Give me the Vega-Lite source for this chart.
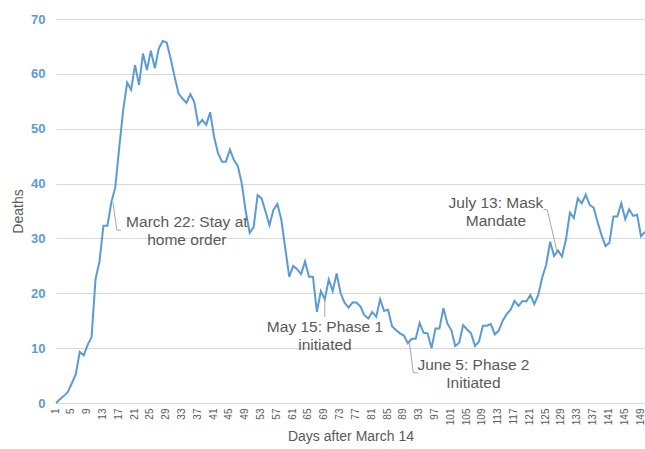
{
  "$schema": "https://vega.github.io/schema/vega-lite/v6.json",
  "width": 589,
  "height": 384,
  "autosize": {"type": "none"},
  "padding": {"left": 56, "top": 19, "right": 0, "bottom": 46},
  "config": {
    "view": {"stroke": null},
    "font": "Liberation Sans",
    "axisX": {
      "labelOverlap": false, "labelAngle": -90, "labelFontSize": 10, "labelColor": "#595959",
      "labelPadding": 5, "labelOffset": -1, "ticks": false, "grid": false, "domainColor": "#d9d9d9", "labelFlush": false,
      "titleFontSize": 14, "titleFontWeight": "normal", "titleColor": "#595959", "titlePadding": 5
    },
    "axisY": {
      "labelFontSize": 13, "labelFontWeight": "bold", "labelColor": "#5b9bd5",
      "labelPadding": 11, "ticks": false, "domain": false, "gridColor": "#d9d9d9",
      "titleFontSize": 14, "titleFontWeight": "normal", "titleColor": "#595959", "titlePadding": 5
    }
  },
  "datasets": {
    "deaths": [
      {"day":1,"deaths":0},{"day":2,"deaths":0.7},{"day":3,"deaths":1.3},{"day":4,"deaths":2.0},{"day":5,"deaths":3.6},
      {"day":6,"deaths":5.2},{"day":7,"deaths":9.3},{"day":8,"deaths":8.7},{"day":9,"deaths":10.6},{"day":10,"deaths":12.0},
      {"day":11,"deaths":22.6},{"day":12,"deaths":25.8},{"day":13,"deaths":32.3},{"day":14,"deaths":32.3},{"day":15,"deaths":36.6},
      {"day":16,"deaths":39.3},{"day":17,"deaths":46.6},{"day":18,"deaths":53.4},{"day":19,"deaths":58.4},{"day":20,"deaths":57.1},
      {"day":21,"deaths":61.6},{"day":22,"deaths":58.0},{"day":23,"deaths":63.7},{"day":24,"deaths":60.7},{"day":25,"deaths":64.2},
      {"day":26,"deaths":61.0},{"day":27,"deaths":64.6},{"day":28,"deaths":66.0},{"day":29,"deaths":65.7},{"day":30,"deaths":62.8},
      {"day":31,"deaths":59.5},{"day":32,"deaths":56.4},{"day":33,"deaths":55.5},{"day":34,"deaths":54.7},{"day":35,"deaths":56.3},
      {"day":36,"deaths":54.8},{"day":37,"deaths":50.7},{"day":38,"deaths":51.6},{"day":39,"deaths":50.7},{"day":40,"deaths":53.0},
      {"day":41,"deaths":48.5},{"day":42,"deaths":45.5},{"day":43,"deaths":44.0},{"day":44,"deaths":44.0},{"day":45,"deaths":46.2},
      {"day":46,"deaths":44.3},{"day":47,"deaths":43.2},{"day":48,"deaths":40.0},{"day":49,"deaths":34.9},{"day":50,"deaths":31.0},
      {"day":51,"deaths":32.1},{"day":52,"deaths":37.9},{"day":53,"deaths":37.3},{"day":54,"deaths":34.9},{"day":55,"deaths":32.4},
      {"day":56,"deaths":35.2},{"day":57,"deaths":36.3},{"day":58,"deaths":33.4},{"day":59,"deaths":28.2},{"day":60,"deaths":23.0},
      {"day":61,"deaths":25.0},{"day":62,"deaths":24.4},{"day":63,"deaths":23.5},{"day":64,"deaths":25.8},{"day":65,"deaths":23.0},
      {"day":66,"deaths":23.0},{"day":67,"deaths":16.6},{"day":68,"deaths":20.4},{"day":69,"deaths":18.9},{"day":70,"deaths":22.5},
      {"day":71,"deaths":20.4},{"day":72,"deaths":23.6},{"day":73,"deaths":20.0},{"day":74,"deaths":18.3},{"day":75,"deaths":17.4},
      {"day":76,"deaths":18.3},{"day":77,"deaths":18.3},{"day":78,"deaths":17.6},{"day":79,"deaths":16.0},{"day":80,"deaths":15.4},
      {"day":81,"deaths":16.6},{"day":82,"deaths":15.7},{"day":83,"deaths":18.9},{"day":84,"deaths":16.8},{"day":85,"deaths":17.0},
      {"day":86,"deaths":14.0},{"day":87,"deaths":13.3},{"day":88,"deaths":12.7},{"day":89,"deaths":12.3},{"day":90,"deaths":10.9},
      {"day":91,"deaths":11.7},{"day":92,"deaths":11.7},{"day":93,"deaths":14.6},{"day":94,"deaths":12.8},{"day":95,"deaths":12.7},
      {"day":96,"deaths":10.0},{"day":97,"deaths":13.6},{"day":98,"deaths":13.6},{"day":99,"deaths":17.3},{"day":100,"deaths":14.5},
      {"day":101,"deaths":13.3},{"day":102,"deaths":10.4},{"day":103,"deaths":11.0},{"day":104,"deaths":14.2},{"day":105,"deaths":13.4},
      {"day":106,"deaths":12.7},{"day":107,"deaths":10.4},{"day":108,"deaths":11.2},{"day":109,"deaths":14.1},{"day":110,"deaths":14.1},
      {"day":111,"deaths":14.4},{"day":112,"deaths":12.5},{"day":113,"deaths":13.2},{"day":114,"deaths":15.0},{"day":115,"deaths":16.2},
      {"day":116,"deaths":17.0},{"day":117,"deaths":18.6},{"day":118,"deaths":17.7},{"day":119,"deaths":18.6},{"day":120,"deaths":18.5},
      {"day":121,"deaths":19.7},{"day":122,"deaths":18.0},{"day":123,"deaths":19.7},{"day":124,"deaths":22.9},{"day":125,"deaths":25.2},
      {"day":126,"deaths":29.4},{"day":127,"deaths":26.8},{"day":128,"deaths":27.8},{"day":129,"deaths":26.7},{"day":130,"deaths":29.8},
      {"day":131,"deaths":34.7},{"day":132,"deaths":33.7},{"day":133,"deaths":37.3},{"day":134,"deaths":36.4},{"day":135,"deaths":38.0},
      {"day":136,"deaths":36.1},{"day":137,"deaths":35.6},{"day":138,"deaths":33.0},{"day":139,"deaths":30.6},{"day":140,"deaths":28.6},
      {"day":141,"deaths":29.2},{"day":142,"deaths":34.0},{"day":143,"deaths":34.0},{"day":144,"deaths":36.4},{"day":145,"deaths":33.5},
      {"day":146,"deaths":35.3},{"day":147,"deaths":34.1},{"day":148,"deaths":34.3},{"day":149,"deaths":30.4},{"day":150,"deaths":31.2}
    ],
    "leaders": [
      {"x1":15.4,"y1":36.6,"x2":16.4,"y2":31.5},
      {"x1":16.4,"y1":31.5,"x2":17.4,"y2":31.5},
      {"x1":69.0,"y1":19.0,"x2":69.0,"y2":15.7},
      {"x1":90.4,"y1":10.9,"x2":91.4,"y2":5.5},
      {"x1":91.4,"y1":5.5,"x2":92.5,"y2":5.5},
      {"x1":124.3,"y1":35.3,"x2":125.3,"y2":35.2},
      {"x1":125.3,"y1":35.2,"x2":127.8,"y2":27.4}
    ],
    "notes": [
      {"x":34.1,"y":33.0,"label":"March 22: Stay at\nhome order"},
      {"x":69.05,"y":13.85,"label":"May 15: Phase 1\ninitiated"},
      {"x":106.6,"y":6.93,"label":"June 5: Phase 2\nInitiated"},
      {"x":112.3,"y":36.46,"label":"July 13: Mask\nMandate"}
    ]
  },
  "layer": [
    {
      "data": {"name": "deaths"},
      "mark": {"type": "line", "color": "#5b9bd5", "strokeWidth": 2},
      "encoding": {
        "x": {
          "field": "day", "type": "quantitative",
          "scale": {"domain": [1, 150], "nice": false, "zero": false},
          "axis": {
            "title": "Days after March 14", "labelOverlap": false,
            "values": [1,5,9,13,17,21,25,29,33,37,41,45,49,53,57,61,65,69,73,77,81,85,89,93,97,101,105,109,113,117,121,125,129,133,137,141,145,149]
          }
        },
        "y": {
          "field": "deaths", "type": "quantitative",
          "scale": {"domain": [0, 70], "nice": false},
          "axis": {"title": "Deaths", "values": [0,10,20,30,40,50,60,70]}
        }
      }
    },
    {
      "data": {"name": "leaders"},
      "mark": {"type": "rule", "color": "#a6a6a6", "strokeWidth": 1},
      "encoding": {
        "x": {"field": "x1", "type": "quantitative", "axis": {
            "title": "Days after March 14", "labelOverlap": false,
            "values": [1,5,9,13,17,21,25,29,33,37,41,45,49,53,57,61,65,69,73,77,81,85,89,93,97,101,105,109,113,117,121,125,129,133,137,141,145,149]
          }},
        "y": {"field": "y1", "type": "quantitative", "axis": {"title": "Deaths", "values": [0,10,20,30,40,50,60,70]}},
        "x2": {"field": "x2"},
        "y2": {"field": "y2"}
      }
    },
    {
      "data": {"name": "notes"},
      "mark": {"type": "text", "lineBreak": "\n", "font": "Liberation Sans", "fontSize": 15.5, "color": "#595959", "align": "center", "baseline": "middle", "lineHeight": 18},
      "encoding": {
        "x": {"field": "x", "type": "quantitative", "axis": {
            "title": "Days after March 14", "labelOverlap": false,
            "values": [1,5,9,13,17,21,25,29,33,37,41,45,49,53,57,61,65,69,73,77,81,85,89,93,97,101,105,109,113,117,121,125,129,133,137,141,145,149]
          }},
        "y": {"field": "y", "type": "quantitative", "axis": {"title": "Deaths", "values": [0,10,20,30,40,50,60,70]}},
        "text": {"field": "label"}
      }
    }
  ]
}
